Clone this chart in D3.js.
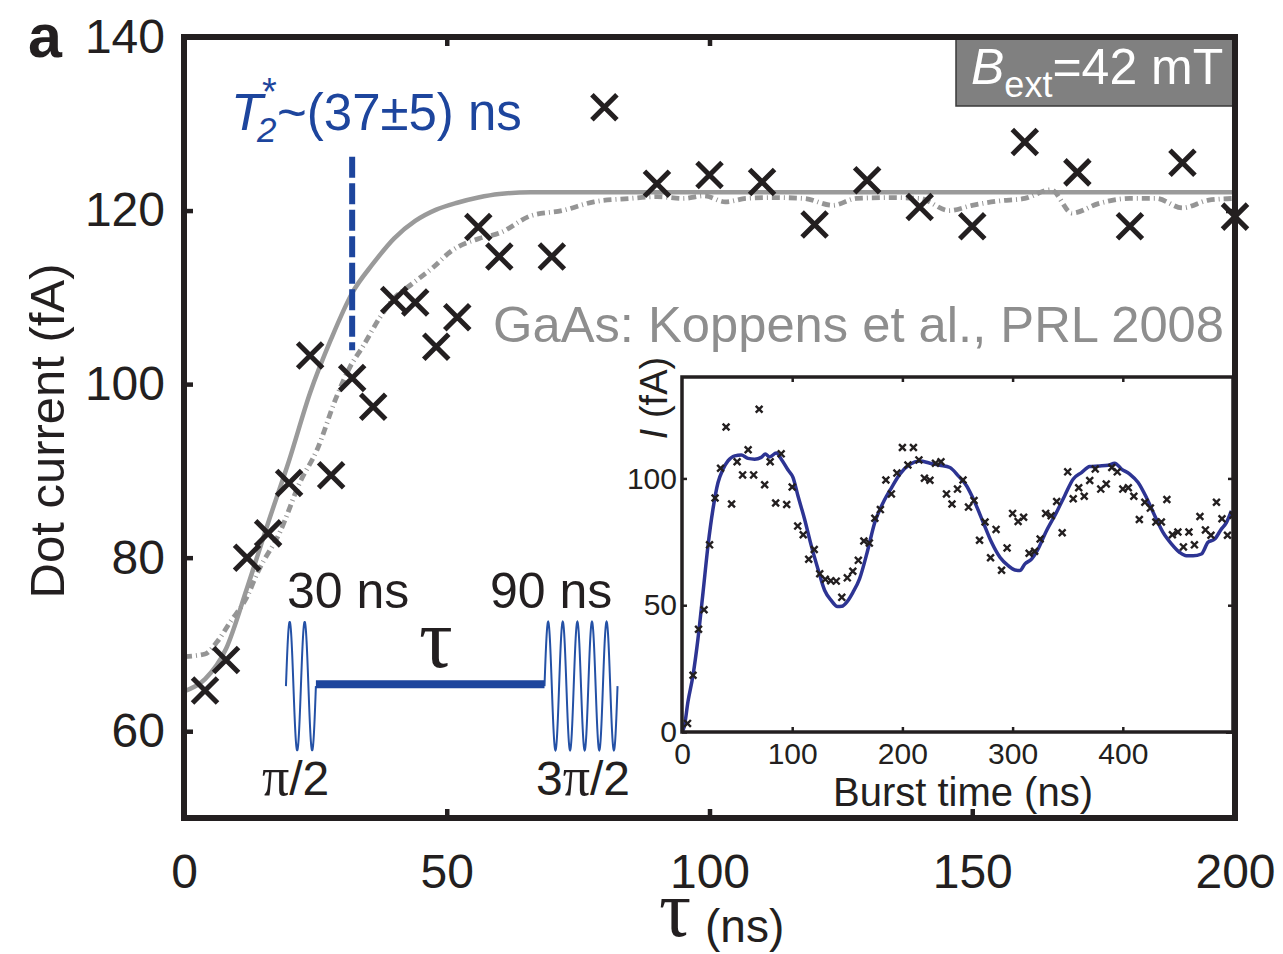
<!DOCTYPE html>
<html>
<head>
<meta charset="utf-8">
<script src="https://cdn.jsdelivr.net/npm/d3@7"></script>
<style>
  html, body { margin: 0; padding: 0; background: #fff; }
  svg { display: block; font-family: "Liberation Sans", Arial, Helvetica, sans-serif; }
</style>
</head>
<body>
<svg id="chart" width="1283" height="954"></svg>
<script>
// ---- Ramsey measurement: free evolution time tau (ns) vs dot current (fA)
const tau = [4, 8, 12, 16, 20, 24, 28, 32, 36, 40, 44, 48, 52, 56, 60,
             70, 80, 90, 100, 110, 120, 130, 140, 150, 160, 170, 180, 190, 200];
const current = [64.7, 68.2, 80.0, 82.8, 88.6, 103.3, 89.5, 100.7, 97.4, 109.7, 109.4, 104.3, 107.7, 118.1, 114.7,
                 114.7, 131.9, 123.1, 124.1, 123.3, 118.4, 123.5, 120.4, 118.2, 127.9, 124.4, 118.2, 125.5, 119.3];

// Gaussian-decay fit (solid grey)
const fitTau = [0, 4, 8, 12, 16, 20, 24, 28, 32, 36, 40, 44, 48, 52, 56, 60, 66, 80, 120, 160, 200];
const fitCurrent = [64.6, 66.0, 69.5, 76.5, 84.0, 91.2, 99.0, 105.2, 110.5, 113.9, 116.8, 118.8, 120.1, 120.9,
                    121.5, 121.9, 122.1, 122.1, 122.1, 122.1, 122.1];

// GaAs reference curve (grey dash-dot)
const refTau = [0, 4, 6.3, 8.7, 12, 14, 18.3, 22, 25.3, 29, 31.6, 34, 37.3, 39.7, 43.5, 47.3, 51, 56.3, 60, 66,
                72, 78, 85, 90, 95, 99, 103, 107, 112, 118, 123.4, 128, 135, 140, 145.6, 150, 155, 160, 165,
                169, 174, 180, 185, 190, 195, 200];
const refCurrent = [68.6, 68.9, 70.3, 72.5, 75.5, 78.3, 83.0, 88.6, 92.4, 98.5, 102.0, 104.3, 107.7, 109.7, 111.6,
                    113.4, 115.4, 116.8, 117.4, 119.4, 120.0, 121.0, 121.4, 121.6, 121.4, 121.7, 121.0, 121.4,
                    121.5, 121.4, 120.6, 121.4, 121.5, 121.4, 120.0, 120.6, 121.1, 121.4, 122.4, 119.7, 120.8,
                    121.4, 121.4, 120.3, 121.2, 121.4];

// ---- Inset: Rabi oscillations, burst time (ns) vs current (fA)
const burstTime = [5, 10, 15, 20, 25, 30, 35, 40, 45, 50, 55, 60, 65, 70, 75, 80, 85, 90, 95, 100,
                   105, 110, 115, 120, 125, 130, 135, 140, 145, 150, 155, 160, 165, 170, 175, 180, 185, 190, 195, 200,
                   205, 210, 215, 220, 225, 230, 235, 240, 245, 250, 255, 260, 265, 270, 275, 280, 285, 290, 295, 300,
                   305, 310, 315, 320, 325, 330, 335, 340, 345, 350, 355, 360, 365, 370, 375, 380, 385, 390, 395, 400,
                   405, 410, 415, 420, 425, 430, 435, 440, 445, 450, 455, 460, 465, 470, 475, 480, 485, 490, 495, 500];
const burstCurrent = [3.4, 22.4, 40.5, 48.2, 73.8, 92.3, 104.0, 120.3, 89.9, 106.6, 101.4, 111.3, 101.4, 127.3, 97.5,
                      106.6, 90.3, 109.7, 89.7, 96.6, 81.2, 77.8, 68.1, 72.0, 62.4, 60.2, 59.6, 59.5, 53.1, 60.8,
                      63.4, 67.7, 75.3, 74.5, 84.3, 87.7, 99.4, 93.9, 102.1, 112.2, 105.3, 112.2, 107.3, 100.1, 99.3,
                      106.0, 106.6, 93.9, 89.9, 95.8, 99.4, 88.7, 91.3, 75.6, 82.8, 68.7, 79.9, 63.8, 72.6, 86.2,
                      83.0, 84.7, 70.5, 71.3, 76.1, 86.2, 85.3, 90.9, 78.6, 102.6, 92.0, 96.3, 93.0, 99.2, 103.7,
                      95.8, 97.8, 104.3, 102.6, 95.8, 96.3, 93.0, 83.8, 90.6, 88.3, 82.8, 82.8, 91.7, 77.8, 78.9,
                      73.0, 78.9, 73.8, 85.0, 79.7, 77.6, 90.6, 84.1, 77.6, 85.5];

const burstFitTime = [0, 2, 5.4, 10, 14.5, 19.1, 23.6, 28.1, 32.7, 37.2, 41.7, 47.8, 53.8, 59.9, 65.9, 71.9, 75.6,
                      79.5, 85.6, 90.1, 96.1, 100.7, 105.2, 111.2, 117.3, 123.3, 129.4, 135.4, 141, 145, 150, 155,
                      161.1, 168, 175, 182.6, 190.2, 197.7, 206.8, 215.9, 225, 234, 243.1, 250.7, 258.2, 265.8,
                      273.3, 280.9, 288.5, 296, 302.1, 306.6, 311.2, 317.2, 323.2, 330, 339.8, 347.3, 354.9, 362.5,
                      370, 379.1, 386.7, 392.7, 398.8, 406.3, 413.9, 421.4, 429, 436.5, 444.1, 451.7, 457.7, 463.8,
                      471.3, 477.3, 483.4, 489.4, 494, 498.5];
const burstFitCurrent = [0, 2, 11.9, 22.4, 36.8, 55.1, 73.5, 87.9, 98.4, 103.6, 106.9, 108.9, 109.2, 107.9, 107.6,
                         108.3, 109.6, 108.5, 110.0, 107.6, 103.4, 100.4, 93.2, 84.0, 73.5, 64.4, 55.9, 51.9, 49.5,
                         49.6, 51.5, 55.0, 60.4, 70.8, 82.7, 90.5, 96.4, 101.7, 105.6, 106.9, 106.0, 105.2, 104.3,
                         101.0, 97.1, 90.5, 82.7, 74.8, 68.9, 65.6, 63.9, 63.7, 66.3, 68.2, 72.2, 78.7, 86.6, 93.2,
                         99.7, 102.3, 104.7, 104.9, 105.2, 106.0, 103.7, 101.7, 98.4, 92.5, 85.3, 78.7, 74.2, 70.8,
                         69.5, 69.5, 70.2, 74.8, 76.1, 80.0, 82.6, 87.2];

// tick values
const xTicks = [0, 50, 100, 150, 200];
const yTicks = [60, 80, 100, 120, 140];
const insetXTicks = [0, 100, 200, 300, 400];
const insetYTicks = [0, 50, 100];

// ---- drawing
const ink = "#231f20";
const grey = "#9a9a9a";
const blue = "#1d459d";
const navy = "#2d3493";
const serif = "'Liberation Serif', 'Times New Roman', serif";

const svg = d3.select("#chart");
const M = { left: 184, right: 1235, top: 37, bottom: 818 };
const x = d3.scaleLinear().domain([0, 200]).range([M.left, M.right]);
const y = d3.scaleLinear().domain([50, 140]).range([M.bottom, M.top]);

// panel letter
svg.append("text").attr("x", 28).attr("y", 57)
  .attr("font-size", 61).attr("font-weight", "bold").attr("fill", ink).text("a");

// axes (inward ticks)
function styleAxis(g, size) {
  g.select(".domain").remove();
  g.selectAll(".tick line").attr("stroke", ink).attr("stroke-width", 4.5);
  g.selectAll(".tick text").attr("fill", ink).attr("font-size", size)
    .attr("font-family", "'Liberation Sans', Arial, sans-serif");
}
svg.append("g").attr("transform", `translate(${M.left},0)`)
  .call(d3.axisLeft(y).tickValues(yTicks).tickSizeInner(-9).tickSizeOuter(0).tickPadding(19).tickFormat(d3.format("d")))
  .call(g => styleAxis(g, 48));
svg.append("g").attr("transform", `translate(0,${M.bottom})`)
  .call(d3.axisBottom(x).tickValues(xTicks).tickSizeInner(-9).tickSizeOuter(0).tickPadding(36).tickFormat(d3.format("d")))
  .call(g => styleAxis(g, 48));
svg.append("g").attr("transform", `translate(0,${M.top})`)
  .call(d3.axisTop(x).tickValues([50, 100, 150]).tickSizeInner(-9).tickSizeOuter(0).tickFormat(""))
  .call(g => styleAxis(g, 48));
svg.append("g").attr("transform", `translate(${M.right},0)`)
  .call(d3.axisRight(y).tickValues([60, 80, 100, 120]).tickSizeInner(-9).tickSizeOuter(0).tickFormat(""))
  .call(g => styleAxis(g, 48));

// axis titles
svg.append("text").attr("transform", "translate(64,431) rotate(-90)")
  .attr("text-anchor", "middle").attr("font-size", 49).attr("fill", ink).text("Dot current (fA)");
svg.append("text").attr("x", 659).attr("y", 936).attr("fill", ink)
  .attr("font-family", serif).attr("font-size", 80).text("τ");
svg.append("text").attr("x", 705).attr("y", 942).attr("fill", ink)
  .attr("font-size", 46).text("(ns)");

// curves
const line = d3.line().x(d => x(d[0])).y(d => y(d[1])).curve(d3.curveMonotoneX);
svg.append("path").datum(d3.zip(fitTau, fitCurrent)).attr("d", line)
  .attr("fill", "none").attr("stroke", grey).attr("stroke-width", 4.5);
svg.append("path").datum(d3.zip(refTau, refCurrent)).attr("d", line)
  .attr("fill", "none").attr("stroke", "#959595").attr("stroke-width", 4.8)
  .attr("stroke-dasharray", "8,4,1,4");

// T2* marker line and label
svg.append("line").attr("x1", x(32)).attr("x2", x(32)).attr("y1", y(126.2)).attr("y2", y(103.9))
  .attr("stroke", blue).attr("stroke-width", 6).attr("stroke-dasharray", "21,5.5");
svg.append("text").attr("x", 231).attr("y", 130).attr("fill", blue).attr("font-size", 52)
  .attr("font-style", "italic").text("T");
svg.append("text").attr("x", 257).attr("y", 142).attr("fill", blue).attr("font-size", 35)
  .attr("font-style", "italic").text("2");
svg.append("text").attr("x", 262).attr("y", 105).attr("fill", blue).attr("font-size", 38).text("*");
svg.append("text").attr("x", 277).attr("y", 130).attr("fill", blue).attr("font-size", 51)
  .text("~(37±5) ns");

// reference label
svg.append("text").attr("x", 493).attr("y", 342).attr("fill", "#8e8e8e").attr("font-size", 50)
  .attr("textLength", 731).attr("lengthAdjust", "spacingAndGlyphs")
  .text("GaAs: Koppens et al., PRL 2008");

// field box
svg.append("rect").attr("x", 956).attr("y", M.top).attr("width", M.right - 956).attr("height", 69)
  .attr("fill", "#808080").attr("stroke", "#3a3a3a").attr("stroke-width", 1.5);
const bt = svg.append("text").attr("x", 971).attr("y", 84).attr("fill", "#fff").attr("font-size", 50);
bt.append("tspan").attr("font-style", "italic").text("B");
bt.append("tspan").attr("font-size", 36).attr("dy", 13).text("ext");
bt.append("tspan").attr("dy", -13).text("=42 mT");

// data markers
function cross(sel, s) {
  return sel.attr("d", `M${-s},${-s}L${s},${s}M${-s},${s}L${s},${-s}`);
}
svg.append("g").selectAll("path").data(d3.zip(tau, current)).join("path")
  .attr("transform", d => `translate(${x(d[0])},${y(d[1])})`)
  .call(cross, 12.5).attr("stroke", ink).attr("stroke-width", 5).attr("fill", "none");

// pulse-sequence schematic
const pulseMid = 65.2, pulseAmp = 7.4;
function burst(t0, t1, periods) {
  const pts = d3.range(0, 1.0001, 1 / 300).map(f => [
    x(t0 + f * (t1 - t0)),
    y(pulseMid + pulseAmp * Math.sin(2 * Math.PI * periods * f))
  ]);
  return d3.line()(pts);
}
svg.append("path").attr("d", burst(19.4, 25.1, 2)).attr("fill", "none").attr("stroke", "#2451a6").attr("stroke-width", 2);
svg.append("path").attr("d", burst(68.6, 82.5, 5)).attr("fill", "none").attr("stroke", "#2451a6").attr("stroke-width", 2);
svg.append("line").attr("x1", x(25.1)).attr("x2", x(68.6)).attr("y1", y(65.4)).attr("y2", y(65.4))
  .attr("stroke", blue).attr("stroke-width", 8);
svg.append("text").attr("x", 287).attr("y", 608).attr("font-size", 50).attr("fill", ink).text("30 ns");
svg.append("text").attr("x", 490).attr("y", 608).attr("font-size", 50).attr("fill", ink).text("90 ns");
svg.append("text").attr("x", 436).attr("y", 667).attr("text-anchor", "middle").attr("font-family", serif)
  .attr("font-size", 84).attr("fill", ink).text("τ");
const p1 = svg.append("text").attr("x", 262).attr("y", 795).attr("font-size", 48).attr("fill", ink);
p1.append("tspan").attr("font-family", serif).attr("font-size", 54).text("π");
p1.append("tspan").text("/2");
const p2 = svg.append("text").attr("x", 536).attr("y", 795).attr("font-size", 48).attr("fill", ink);
p2.append("tspan").text("3");
p2.append("tspan").attr("font-family", serif).attr("font-size", 54).text("π");
p2.append("tspan").text("/2");

// ---- inset
const IL = 682, IR = 1233, IT = 377, IB = 732;
const ix = d3.scaleLinear().domain([0, 500]).range([IL, IR]);
const iy = d3.scaleLinear().domain([0, 140]).range([IB, IT]);
const inset = svg.append("g");
inset.append("rect").attr("x", IL).attr("y", IT).attr("width", IR - IL).attr("height", IB - IT).attr("fill", "#fff");
inset.append("path").datum(d3.zip(burstFitTime, burstFitCurrent))
  .attr("d", d3.line().x(d => ix(d[0])).y(d => iy(d[1])).curve(d3.curveMonotoneX))
  .attr("fill", "none").attr("stroke", navy).attr("stroke-width", 3.5);
inset.append("g").selectAll("path").data(d3.zip(burstTime, burstCurrent)).join("path")
  .attr("transform", d => `translate(${ix(d[0])},${iy(d[1])})`)
  .call(cross, 3.4).attr("stroke", ink).attr("stroke-width", 2.4).attr("fill", "none");

function styleInset(g) {
  g.select(".domain").remove();
  g.selectAll(".tick line").attr("stroke", ink).attr("stroke-width", 2.5);
  g.selectAll(".tick text").attr("fill", ink).attr("font-size", 30)
    .attr("font-family", "'Liberation Sans', Arial, sans-serif");
}
inset.append("g").attr("transform", `translate(0,${IB})`)
  .call(d3.axisBottom(ix).tickValues(insetXTicks).tickSizeInner(-5).tickSizeOuter(0).tickPadding(11).tickFormat(d3.format("d")))
  .call(styleInset);
inset.append("g").attr("transform", `translate(0,${IT})`)
  .call(d3.axisTop(ix).tickValues(insetXTicks.slice(1)).tickSizeInner(-5).tickSizeOuter(0).tickFormat(""))
  .call(styleInset);
inset.append("g").attr("transform", `translate(${IL},0)`)
  .call(d3.axisLeft(iy).tickValues(insetYTicks).tickSizeInner(-5).tickSizeOuter(0).tickPadding(5).tickFormat(d3.format("d")))
  .call(styleInset);
inset.append("g").attr("transform", `translate(${IR},0)`)
  .call(d3.axisRight(iy).tickValues(insetYTicks.slice(1)).tickSizeInner(-5).tickSizeOuter(0).tickFormat(""))
  .call(styleInset);
inset.append("rect").attr("x", IL).attr("y", IT).attr("width", IR - IL).attr("height", IB - IT)
  .attr("fill", "none").attr("stroke", ink).attr("stroke-width", 3.5);

svg.append("text").attr("x", 963).attr("y", 806).attr("text-anchor", "middle")
  .attr("font-size", 40).attr("fill", ink).text("Burst time (ns)");
const iyl = svg.append("text").attr("transform", "translate(667,398) rotate(-90)")
  .attr("text-anchor", "middle").attr("font-size", 38).attr("fill", ink);
iyl.append("tspan").attr("font-style", "italic").text("I");
iyl.append("tspan").text(" (fA)");

// main frame
svg.append("rect").attr("x", M.left).attr("y", M.top).attr("width", M.right - M.left).attr("height", M.bottom - M.top)
  .attr("fill", "none").attr("stroke", ink).attr("stroke-width", 6);
</script>
</body>
</html>
